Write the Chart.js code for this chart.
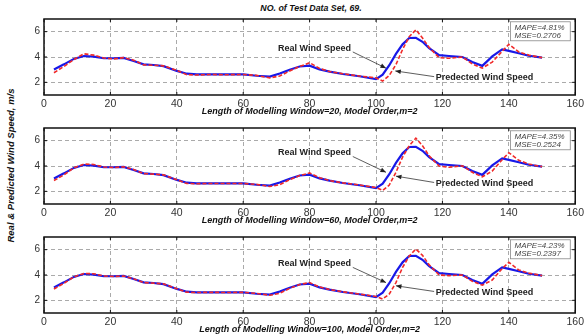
<!DOCTYPE html>
<html>
<head>
<meta charset="utf-8">
<script src="https://cdn.jsdelivr.net/npm/chart.js@4.4.1/dist/chart.umd.min.js"></script>
<style>
  body { margin: 0; background: #fff; width: 587px; height: 334px; overflow: hidden; position: relative; font-family: "Liberation Sans", Arial, sans-serif; }
  canvas { position: absolute; left: 0; }
  #figTitle { position: absolute; top: 3px; left: 0; width: 622px; text-align: center; font: italic bold 8.8px "Liberation Sans", Arial, sans-serif; color: #111; }
  #yTitle { position: absolute; left: -90px; top: 160px; width: 200px; text-align: center; font: italic bold 9.5px "Liberation Sans", Arial, sans-serif; color: #111; transform: rotate(-90deg); }
</style>
</head>
<body>
<div id="figTitle">NO. of Test Data Set, 69.</div>
<div id="yTitle">Real &amp; Predicted Wind Speed, m/s</div>
<canvas id="c1" width="587" height="117" style="top:0px"></canvas>
<canvas id="c2" width="587" height="117" style="top:109px"></canvas>
<canvas id="c3" width="587" height="117" style="top:218px"></canvas>
<script>
// sample positions along the test window
const steps = [3,6,9,12,15,18,21,24,27,30,33,36,40,43,46,50,55,60,64,68,71,74,77,80,83,86,90,95,100,102,104,106,108,110,112,114,116,119,122,126,129,132,135,138,140,143,146,150];

// measured wind speed (same in every panel)
const realSpeed = [3.02,3.42,3.85,4.08,4.03,3.9,3.9,3.93,3.68,3.42,3.37,3.28,2.9,2.68,2.63,2.63,2.63,2.63,2.52,2.45,2.7,3.0,3.25,3.32,3.02,2.84,2.66,2.48,2.25,2.6,3.35,4.25,5.0,5.5,5.52,5.2,4.7,4.15,4.08,4.0,3.6,3.3,4.05,4.6,4.48,4.3,4.1,3.95];

// predicted wind speed for window 20 / 60 / 100
const predW20 = [2.76,3.25,3.8,4.25,4.15,3.92,3.85,3.95,3.75,3.38,3.35,3.3,2.95,2.6,2.58,2.62,2.6,2.62,2.55,2.35,2.5,2.9,3.25,3.55,3.1,2.85,2.68,2.5,2.35,2.1,2.55,3.4,4.6,5.6,6.15,5.5,4.75,3.95,3.9,4.0,3.45,3.12,3.6,4.45,5.0,4.4,4.15,3.95];
const predW60 = [2.85,3.3,3.85,4.15,4.12,3.92,3.88,3.93,3.72,3.4,3.36,3.3,2.92,2.62,2.6,2.62,2.62,2.62,2.55,2.38,2.52,2.92,3.25,3.45,3.08,2.85,2.67,2.5,2.3,2.08,2.5,3.5,4.7,5.6,6.2,5.6,4.8,4.0,3.9,4.02,3.5,3.15,3.6,4.5,5.05,4.45,4.15,3.95];
const predW100 = [2.9,3.35,3.85,4.12,4.1,3.92,3.88,3.92,3.7,3.4,3.36,3.3,2.92,2.64,2.62,2.63,2.62,2.63,2.55,2.4,2.55,2.95,3.25,3.4,3.05,2.85,2.67,2.5,2.3,2.1,2.5,3.4,4.6,5.5,6.05,5.55,4.8,4.0,3.95,4.0,3.5,3.2,3.6,4.5,5.0,4.4,4.15,3.95];

const xTitles = [
    'Length of Modelling Window=20, Model Order,m=2',
    'Length of Modelling Window=60, Model Order,m=2',
    'Length of Modelling Window=100, Model Order,m=2'
];
const mapeLabels = ['MAPE=4.81%', 'MAPE=4.35%', 'MAPE=4.23%'];
const mseLabels = ['MSE=0.2706', 'MSE=0.2524', 'MSE=0.2397'];
const yTicks = [2, 4, 6];

// arrow notes, in data units
const notes = [
    { realTxt: 4.65, realFrom: [93, 4.4], realTo: [103, 3.12], predTxt: 2.35, predFrom: [117.5, 2.45], predTo: [105.8, 2.9] },
    { realTxt: 5.05, realFrom: [93, 4.75], realTo: [103, 3.5], predTxt: 2.6, predFrom: [117.5, 2.7], predTo: [106, 3.2] },
    { realTxt: 4.9, realFrom: [93, 4.6], realTo: [103, 3.4], predTxt: 2.6, predFrom: [117.5, 2.7], predTo: [106, 3.15] }
];

function arrow(ctx, x1, y1, x2, y2) {
    ctx.beginPath();
    ctx.moveTo(x1, y1);
    ctx.lineTo(x2, y2);
    ctx.stroke();
    const a = Math.atan2(y2 - y1, x2 - x1);
    ctx.beginPath();
    ctx.moveTo(x2, y2);
    ctx.lineTo(x2 - 6 * Math.cos(a - 0.4), y2 - 6 * Math.sin(a - 0.4));
    ctx.lineTo(x2 - 6 * Math.cos(a + 0.4), y2 - 6 * Math.sin(a + 0.4));
    ctx.closePath();
    ctx.fill();
}

const framePlugin = {
    id: 'frame',
    afterDraw(chart, args, opts) {
        const ctx = chart.ctx, a = chart.chartArea;
        const xs = chart.scales.x, ys = chart.scales.y;
        const n = notes[opts.idx];
        ctx.save();
        // axes box + inner ticks (matlab style)
        ctx.strokeStyle = '#111';
        ctx.lineWidth = 1.5;
        ctx.strokeRect(a.left, a.top, a.right - a.left, a.bottom - a.top);
        ctx.lineWidth = 1;
        for (let v = 0; v <= 160; v += 20) {
            const px = xs.getPixelForValue(v);
            ctx.beginPath();
            ctx.moveTo(px, a.top); ctx.lineTo(px, a.top + 3);
            ctx.moveTo(px, a.bottom); ctx.lineTo(px, a.bottom - 3);
            ctx.stroke();
        }
        yTicks.forEach(v => {
            const py = ys.getPixelForValue(v);
            ctx.beginPath();
            ctx.moveTo(a.left, py); ctx.lineTo(a.left + 3, py);
            ctx.moveTo(a.right, py); ctx.lineTo(a.right - 3, py);
            ctx.stroke();
        });

        // stats box
        const bl = xs.getPixelForValue(140.5), br = xs.getPixelForValue(158.5);
        const bt = ys.getPixelForValue(6.78), bb = ys.getPixelForValue(5.28);
        ctx.fillStyle = '#fff';
        ctx.fillRect(bl, bt, br - bl, bb - bt);
        ctx.strokeStyle = '#888';
        ctx.lineWidth = 0.8;
        ctx.strokeRect(bl, bt, br - bl, bb - bt);
        ctx.fillStyle = '#444';
        ctx.font = 'italic 8px "Liberation Sans", Arial, sans-serif';
        ctx.textAlign = 'left';
        ctx.textBaseline = 'middle';
        ctx.fillText(mapeLabels[opts.idx], bl + 4, bt + 5.5);
        ctx.fillText(mseLabels[opts.idx], bl + 4, bt + 13.5);

        // arrow labels
        ctx.fillStyle = '#222';
        ctx.strokeStyle = '#333';
        ctx.lineWidth = 0.8;
        ctx.font = 'bold 9px "Liberation Sans", Arial, sans-serif';
        ctx.fillText('Real Wind Speed', xs.getPixelForValue(70.5), ys.getPixelForValue(n.realTxt));
        ctx.fillText('Predected Wind Speed', xs.getPixelForValue(118), ys.getPixelForValue(n.predTxt));
        arrow(ctx, xs.getPixelForValue(n.realFrom[0]), ys.getPixelForValue(n.realFrom[1]),
                   xs.getPixelForValue(n.realTo[0]), ys.getPixelForValue(n.realTo[1]));
        arrow(ctx, xs.getPixelForValue(n.predFrom[0]), ys.getPixelForValue(n.predFrom[1]),
                   xs.getPixelForValue(n.predTo[0]), ys.getPixelForValue(n.predTo[1]));
        ctx.restore();
    }
};

function makePanel(id, idx, predicted) {
    new Chart(document.getElementById(id), {
        type: 'line',
        data: {
            datasets: [
                {
                    label: 'Predected Wind Speed',
                    data: steps.map((s, i) => ({ x: s, y: predicted[i] })),
                    borderColor: '#f02a2a',
                    borderWidth: 1.6,
                    borderDash: [4, 2],
                    pointRadius: 0,
                    tension: 0
                },
                {
                    label: 'Real Wind Speed',
                    data: steps.map((s, i) => ({ x: s, y: realSpeed[i] })),
                    borderColor: '#1818e8',
                    borderWidth: 2.2,
                    pointRadius: 0,
                    tension: 0
                }
            ]
        },
        options: {
            responsive: false,
            animation: false,
            layout: { padding: { left: 22, right: 9, top: 19, bottom: 0 } },
            plugins: {
                legend: { display: false },
                tooltip: { enabled: false },
                frame: { idx: idx }
            },
            scales: {
                x: {
                    type: 'linear',
                    min: 0,
                    max: 160,
                    ticks: { stepSize: 20, color: '#333', font: { size: 10.5 }, padding: 3, maxRotation: 0 },
                    grid: { color: '#aaa', drawTicks: false },
                    border: { display: false, dash: [4, 3] },
                    title: {
                        display: true,
                        text: xTitles[idx],
                        color: '#111',
                        font: { size: 9, style: 'italic', weight: 'bold' },
                        padding: { top: 0, bottom: 0 }
                    },
                    afterFit: s => { s.height = 22; }
                },
                y: {
                    min: 1,
                    max: 7,
                    afterBuildTicks: s => { s.ticks = yTicks.map(v => ({ value: v })); },
                    ticks: { color: '#333', font: { size: 10 }, padding: 4 },
                    grid: { color: '#aaa', drawTicks: false },
                    border: { display: false, dash: [4, 3] },
                    afterFit: s => { s.width = 22; }
                }
            }
        },
        plugins: [framePlugin]
    });
}

makePanel('c1', 0, predW20);
makePanel('c2', 1, predW60);
makePanel('c3', 2, predW100);
</script>
</body>
</html>
